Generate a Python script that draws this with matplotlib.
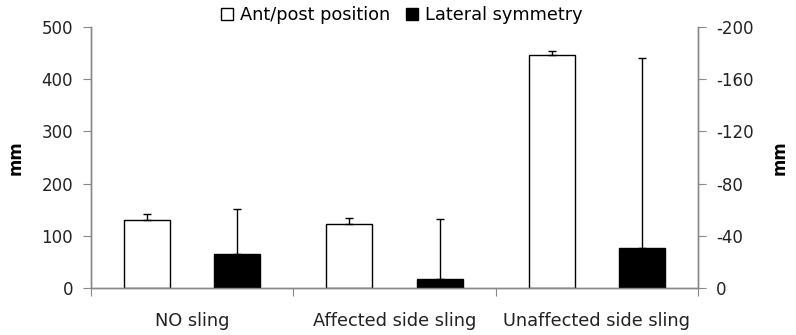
import matplotlib.pyplot as plt
import numpy as np

plt.rcParams["font.family"] = ["DejaVu Sans"]
plt.rcParams["axes.unicode_minus"] = False

categories = ["NO sling", "Affected side sling", "Unaffected side sling"]
ant_post = [131, 122, 447]
ant_post_err = [12, 12, 7]
lateral = [-26, -7, -31]
lateral_err = [35, 46, 145]

GRAY = "#888888"

fig = plt.figure(figsize=(7.96, 3.35), dpi=100)
ax = fig.add_axes([0.1143, 0.1394, 0.7626, 0.7806])
ax2 = ax.twinx()

x = np.arange(len(categories))
width = 0.228
offset = 0.223

ax.bar(x - offset, ant_post, width, color="white", edgecolor="black", linewidth=1.0,
       label="Ant/post position", zorder=2)
ax.errorbar(x - offset, ant_post, yerr=[np.zeros(3), ant_post_err], fmt="none",
            ecolor="black", elinewidth=1.0, capsize=3, capthick=1.0, zorder=3)

ax2.bar(x + offset, lateral, width, color="black", edgecolor="black", linewidth=1.0,
        label="Lateral symmetry", zorder=2)
ax2.errorbar(x + offset, lateral, yerr=[lateral_err, np.zeros(3)], fmt="none",
             ecolor="black", elinewidth=1.0, capsize=3, capthick=1.0, zorder=3)

ax.set_xlim(-0.5, 2.5)
ax.set_ylim(0, 500)
ax.set_yticks(np.arange(0, 501, 100))
ax2.set_ylim(0, -200)
ax2.set_yticks(np.arange(0, -201, -40))

ax.set_xticks([-0.5, 0.5, 1.5, 2.5])
ax.set_xticklabels([])
ax.set_xticks(x, minor=True)
ax.set_xticklabels(categories, minor=True)
ax.tick_params(axis="x", which="major", direction="out", length=6, color=GRAY)
ax.tick_params(axis="x", which="minor", length=0, pad=17, labelsize=12.8, labelcolor="#222222")
ax.tick_params(axis="y", direction="out", length=6, color=GRAY, labelsize=12,
               labelcolor="#222222", pad=7)
ax2.tick_params(axis="y", direction="out", length=6, color=GRAY, labelsize=12,
                labelcolor="#222222", pad=7)

for a in (ax, ax2):
    a.spines["top"].set_visible(False)
    for side in ("left", "right", "bottom"):
        a.spines[side].set_color(GRAY)
        a.spines[side].set_linewidth(1.0)

ax.set_ylabel("mm", fontweight="bold", fontsize=12, labelpad=12)
ax2.set_ylabel("mm", fontweight="bold", fontsize=12, labelpad=12)

h1, l1 = ax.get_legend_handles_labels()
h2, l2 = ax2.get_legend_handles_labels()
fig.legend(h1 + h2, l1 + l2, loc="center", bbox_to_anchor=(0.505, 0.955), ncol=2,
           frameon=False, fontsize=12.8, handlelength=0.65, handleheight=0.65,
           handletextpad=0.4, columnspacing=0.9)

fig.savefig("out.png", dpi=100)
